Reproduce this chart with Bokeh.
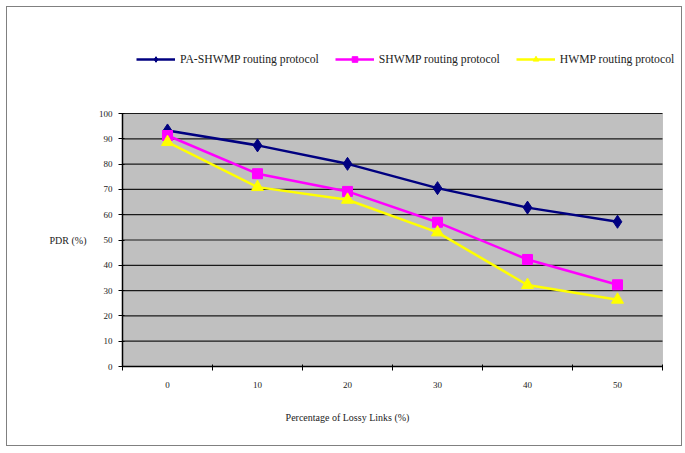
from bokeh.plotting import figure
from bokeh.models import Range1d, FixedTicker, Legend, LegendItem, Label, BoxAnnotation
from bokeh.embed import file_html
from bokeh.resources import INLINE

x_labels = ["0", "10", "20", "30", "40", "50"]
pa_shwmp = [93.3, 87.4, 80.1, 70.5, 62.8, 57.2]
shwmp = [91.3, 76.2, 69.2, 57.0, 42.3, 32.3]
hwmp = [88.7, 70.9, 65.9, 53.0, 32.2, 26.4]
y_ticks = list(range(0, 101, 10))

n = len(x_labels)
xs = list(range(n))
FONT = "Liberation Serif"
TXT = "#222222"

# layout geometry (pixels) -> ranges so that the whole canvas is the frame
W, H = 674, 438
PL, PR, PT, PB = 115, 19, 106, 79          # space round the plot area
cat_px = (W - PL - PR) / n
unit_px = (H - PT - PB) / 100.0
x0 = -0.5 - PL / cat_px
x1 = n - 0.5 + PR / cat_px
y0 = 0 - PB / unit_px
y1 = 100 + PT / unit_px

p = figure(width=W, height=H, output_backend="svg", toolbar_location=None,
           x_range=Range1d(x0, x1), y_range=Range1d(y0, y1),
           min_border_left=0, min_border_right=0, min_border_top=0, min_border_bottom=0)
p.margin = (7, 0, 0, 7)
p.styles = {"outline": "1px solid #808080"}
p.outline_line_color = None
p.background_fill_color = "white"
p.xgrid.grid_line_color = None
p.ygrid.grid_line_color = None

# grey plot area
p.add_layout(BoxAnnotation(left=-0.5, right=n - 0.5, bottom=0, top=100,
                           fill_color="#C0C0C0", fill_alpha=1.0,
                           line_color="#808080", line_width=1, level="underlay"))
# horizontal gridlines
p.segment(x0=[-0.5] * len(y_ticks), x1=[n - 0.5] * len(y_ticks), y0=y_ticks, y1=y_ticks,
          line_color="#1a1a1a", line_width=1.2)

# x axis at y=0: labels at category centres, cross ticks at boundaries
xa = p.xaxis[0]
xa.fixed_location = 0
xa.bounds = (-0.5, n - 0.5)
xa.ticker = FixedTicker(ticks=xs, minor_ticks=[i - 0.5 for i in range(n + 1)])
xa.major_label_overrides = {i: l for i, l in enumerate(x_labels)}
xa.major_tick_line_color = None
xa.minor_tick_in = 2
xa.minor_tick_out = 4
xa.minor_tick_line_color = "black"
xa.axis_line_color = "black"
xa.axis_line_width = 1.5
xa.major_label_standoff = 9
xa.major_label_text_font = FONT
xa.major_label_text_font_size = "9px"
xa.major_label_text_color = TXT

ya = p.yaxis[0]
ya.fixed_location = -0.5
ya.bounds = (0, 100)
ya.ticker = FixedTicker(ticks=y_ticks)
ya.major_tick_in = 2
ya.major_tick_out = 4
ya.minor_tick_line_color = None
ya.axis_line_color = "black"
ya.axis_line_width = 1.5
ya.major_label_standoff = 6
ya.major_label_text_font = FONT
ya.major_label_text_font_size = "9px"
ya.major_label_text_color = TXT

# axis titles
p.add_layout(Label(x=-0.9, y=50, text="PDR (%)", text_font=FONT, text_font_size="10px",
                   text_color=TXT, text_align="right", text_baseline="middle"))
p.add_layout(Label(x=2.0, y=-20, text="Percentage of Lossy Links (%)", text_font=FONT,
                   text_font_size="10px", text_color=TXT, text_align="center",
                   text_baseline="middle"))

# series
l1 = p.line(xs, pa_shwmp, line_color="#000080", line_width=2.5)
m1 = p.scatter(xs, pa_shwmp, marker="diamond", size=13, fill_color="#000080", line_color="#000080")
l2 = p.line(xs, shwmp, line_color="#FF00FF", line_width=2.5)
m2 = p.scatter(xs, shwmp, marker="square", size=10, fill_color="#FF00FF", line_color="#FF00FF")
l3 = p.line(xs, hwmp, line_color="#FFFF00", line_width=2.5)
m3 = p.scatter(xs, hwmp, marker="triangle", size=12, fill_color="#FFFF00", line_color="#FFFF00")

legend = Legend(items=[
    LegendItem(label="PA-SHWMP routing protocol", renderers=[l1, m1]),
    LegendItem(label="SHWMP routing protocol", renderers=[l2, m2]),
    LegendItem(label="HWMP routing protocol", renderers=[l3, m3]),
], orientation="horizontal", location=(129, 379), padding=0, margin=0,
    glyph_width=39, glyph_height=14, label_standoff=5, spacing=16,
    border_line_color=None, background_fill_alpha=0,
    label_text_font=FONT, label_text_font_size="11.7px", label_text_color=TXT)
p.add_layout(legend)

open("out.html", "w").write(file_html(p, INLINE))
